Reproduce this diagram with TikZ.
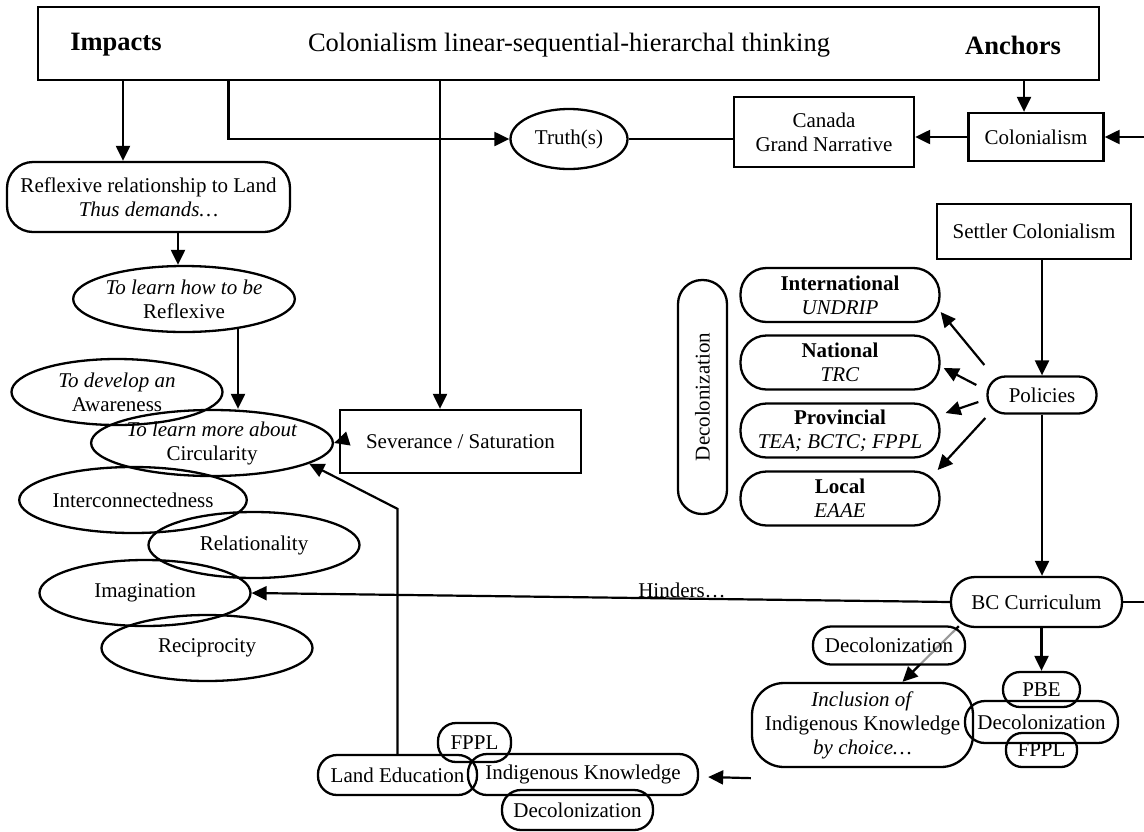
\documentclass[tikz,border=0pt]{standalone}
\usepackage{fontspec}
\setmainfont{Liberation Serif}
\usetikzlibrary{shapes.geometric,arrows.meta,calc}
\begin{document}
\begin{tikzpicture}[x=1pt,y=-1pt,
  nf/.style={font=\fontsize{21}{24}\selectfont},
  tf/.style={font=\fontsize{26.5}{30}\selectfont},
  base/.style={draw, line width=2.3pt, inner sep=0pt, align=center, font=\fontsize{21}{24}\selectfont},
  sq/.style={base, rectangle},
  ell/.style={base, ellipse, minimum width=211pt, minimum height=66pt},
  pill/.style={base, rectangle, rounded corners=#1},
  pill/.default=16pt,
  arr/.style={line width=2.2pt, -{Triangle[length=15pt,width=14pt]}},
  ln/.style={line width=2.2pt},
]
\useasboundingbox (0,0) rectangle (1144,831);

% top bar
\node[sq, minimum width=1061pt, minimum height=73pt] (top) at (568.5,43.5) {};
\node[tf, font=\fontsize{26.5}{30}\selectfont\bfseries] (imp) at (116,45) {Impacts};
\node[tf] (ttl) at (569,45) {Colonialism linear-sequential-hierarchal thinking};
\node[tf, font=\fontsize{26.5}{30}\selectfont\bfseries] (anc) at (1013,45) {Anchors};

% anchors chain
\node[ell, minimum width=117pt, minimum height=60pt] (truth) at (569,139) {Truth(s)};
\node[sq, minimum width=180pt, minimum height=70pt] (canada) at (824,132) {Canada\\Grand Narrative};
\node[sq, minimum width=135pt, minimum height=48pt] (col) at (1036,137) {Colonialism};
\node[sq, minimum width=194pt, minimum height=55pt] (settler) at (1034,231.5) {Settler Colonialism};
\node[pill=18pt, minimum width=109pt, minimum height=37pt] (pol) at (1042,395) {Policies};

\node[pill=26pt, minimum width=199pt, minimum height=54pt] (intl) at (840,295) {\textbf{International}\\\textit{UNDRIP}};
\node[pill=26pt, minimum width=199pt, minimum height=54pt] (nat) at (840,362.5) {\textbf{National}\\\textit{TRC}};
\node[pill=26pt, minimum width=199pt, minimum height=54pt] (prov) at (840,430.5) {\textbf{Provincial}\\\textit{TEA; BCTC; FPPL}};
\node[pill=26pt, minimum width=199pt, minimum height=54pt] (loc) at (840,498.5) {\textbf{Local}\\\textit{EAAE}};
\node[pill=24pt, minimum width=234pt, minimum height=49pt, rotate=90] (decv) at (702.5,397) {Decolonization};

\node[pill=24pt, minimum width=171pt, minimum height=50pt] (bc) at (1036.5,602) {BC Curriculum};
\node[nf] (hind) at (682,590) {Hinders…};

\node[pill=32pt, minimum width=221pt, minimum height=84pt] (incl) at (862.5,725) {\textit{Inclusion of}\\Indigenous Knowledge\\\textit{by choice…}};
\node[pill=17pt, minimum width=77pt, minimum height=35pt] (pbe) at (1041.5,689.5) {PBE};
\node[pill=20pt, minimum width=153pt, minimum height=42pt] (decr) at (1041.5,722) {Decolonization};
\node[pill=16pt, minimum width=71pt, minimum height=34pt] (fpplr) at (1041.5,750) {FPPL};

% bottom cluster
\node[pill=19pt, minimum width=159pt, minimum height=40pt] (land) at (397.5,775) {Land Education};
\node[pill=19pt, minimum width=230pt, minimum height=41pt] (ik) at (583,774.5) {Indigenous Knowledge};
\node[pill=18pt, minimum width=73pt, minimum height=39pt] (fpplb) at (474.5,742.5) {FPPL};
\node[pill=19pt, minimum width=151pt, minimum height=40pt] (decb) at (577.5,810) {Decolonization};

% left column
\node[pill=26pt, minimum width=283pt, minimum height=70pt] (refl) at (148.5,197) {Reflexive relationship to Land\\\textit{Thus demands…}};
\node[ell] (learn1) at (184,299) {\textit{To learn how to be}\\Reflexive};
\node[ell] (develop) at (117,392) {\textit{To develop an}\\Awareness};
\node[ell] (learnmore) at (212,443) {\textit{To learn more about}\\Circularity};
\node[ell] (inter) at (133,500) {Interconnectedness};
\node[ell] (relat) at (254,545) {Relationality};
\node[ell] (imag) at (145,593) {Imagination};
\node[ell] (recip) at (207,648) {Reciprocity};
\node[sq, minimum width=241pt, minimum height=63pt] (sev) at (460.5,441.5) {Severance / Saturation};

% edge coordinates
\coordinate (edgeA) at (1144,137);
\coordinate (edgeB) at (1144,602);

% connectors from top bar
\draw[arr] ([xshift=-445.5pt]top.south) -- ([xshift=-445.5pt]top.south |- refl.north);
\draw[arr] ([xshift=-340pt]top.south) |- (truth.west);
\draw[arr] ([xshift=-128.5pt]top.south) -- ([xshift=-128.5pt]top.south |- sev.north);
\draw[arr] ([xshift=455.5pt]top.south) -- ([xshift=455.5pt]top.south |- col.north);

\draw[ln] (truth.east) -- (truth.east -| canada.west);
\draw[arr] (col.west) -- (col.west -| canada.east);
\draw[arr] (edgeA) -- (col.east);
\draw[arr] (settler.south -| pol.north) -- (pol.north);

\draw[arr] ([shift={(-2,-30)}]pol.west) -- ([shift={(0,17)}]intl.east);
\draw[arr] ([shift={(-10,-10)}]pol.west) -- ([shift={(3,5.5)}]nat.east);
\draw[arr] ([shift={(-8,7)}]pol.west) -- ([shift={(5,-17.5)}]prov.east);
\draw[arr] ([shift={(-1,23)}]pol.west) -- ([shift={(-3,-28.5)}]loc.east);

\draw[arr] (pol.south) -- (pol.south |- bc.north);
\draw[ln] (bc.east) -- (edgeB);
\draw[arr] (bc.west) -- (imag.east);
\draw[arr] (bc.south -| pbe.north) -- (pbe.north);
\draw[arr] ([shift={(9,-2)}]bc.south west) -- ([xshift=40pt]incl.north);
\node[pill=18pt, minimum width=152pt, minimum height=38pt, fill=white, fill opacity=0.6, text opacity=1] (decm) at (889,645.5) {Decolonization};

\draw[arr] ([shift={(0,10)}]incl.south west) -- ([shift={(9,2.5)}]ik.east);

% left column connectors
\draw[arr] ([xshift=29.5pt]refl.south) -- ([xshift=29.5pt]refl.south |- learn1.north);
\draw[arr] ([shift={(54,28)}]learn1.center) -- ([xshift=26pt]learnmore.north);
\draw[arr] (sev.west) -- (learnmore.east);
\draw[arr] (land.north) -- ++(0,-245) -- (learnmore.-12);
\end{tikzpicture}
\end{document}
